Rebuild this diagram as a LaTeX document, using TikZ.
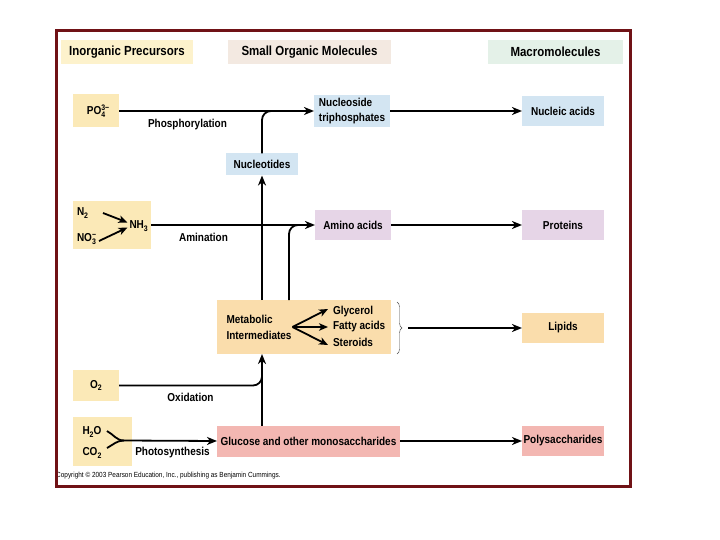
\documentclass[tikz,border=0pt]{standalone}
\usepackage{fontspec}
\setmainfont{Liberation Sans}[FakeStretch=0.87]
\usetikzlibrary{arrows.meta,decorations.pathreplacing}
\definecolor{framecol}{RGB}{112,18,22}
\definecolor{hInorg}{RGB}{253,242,204}
\definecolor{hSmall}{RGB}{243,233,225}
\definecolor{hMacro}{RGB}{228,241,232}
\definecolor{yel}{RGB}{251,233,183}
\definecolor{blu}{RGB}{211,229,242}
\definecolor{pur}{RGB}{230,213,231}
\definecolor{pch}{RGB}{250,221,172}
\definecolor{sal}{RGB}{243,183,178}
\newlength\ionw
\newcommand{\ion}[2]{\setbox0=\hbox{\fontsize{8}{8}\selectfont #1}\setbox2=\hbox{\fontsize{8}{8}\selectfont #2}\ionw=\wd0 \ifdim\wd2>\ionw \ionw=\wd2\fi\hbox to\ionw{\rlap{\raise4.6pt\box0}\lower2.4pt\box2\hss}}
\newcommand{\sbs}[1]{\lower2.4pt\hbox{\fontsize{8}{8}\selectfont #1}}
\tikzset{
  box/.style={inner sep=0pt, outer sep=0pt, draw=none, font=\fontsize{11.5}{13}\selectfont\bfseries},
  hdr/.style={box, minimum height=24pt, font=\fontsize{13.2}{15}\selectfont\bfseries},
  lbl/.style={inner sep=0pt, outer sep=0pt, font=\fontsize{11.5}{13}\selectfont\bfseries},
  conn/.style={line width=1.8pt},
  arr/.style={conn, -{Stealth[length=10pt,width=8pt,inset=3pt]}},
  arrsm/.style={conn, -{Stealth[length=9pt,width=7.5pt,inset=2.5pt]}},
  bracestyle/.style={decorate, decoration={brace, amplitude=5pt}, line width=0.45pt, draw=black!70},
}
\begin{document}
\begin{tikzpicture}[x=1pt,y=-1pt]
\useasboundingbox (0,0) rectangle (720,540);
\fill[white] (0,0) rectangle (720,540);
% headers
\node[hdr, fill=hInorg, minimum width=132pt] (hinorg) at (127,52) {Inorganic Precursors};
\node[hdr, fill=hSmall, minimum width=163pt] (hsmall) at (309.5,52) {Small Organic Molecules};
\node[hdr, fill=hMacro, minimum width=135pt] (hmacro) at (555.5,52) {Macromolecules};
% row 1
\node[box, fill=yel, minimum width=46pt, minimum height=33pt] (po4) at (96,111) {PO\ion{3−}{4}};
\node[box, fill=blu, minimum width=76pt, minimum height=32pt, align=left, font=\fontsize{11.5}{15}\selectfont\bfseries] (nt) at (352,111) {Nucleoside\\triphosphates};
\node[box, fill=blu, minimum width=82pt, minimum height=30pt] (na) at (563,111) {Nucleic acids};
\node[box, fill=blu, minimum width=72pt, minimum height=22pt] (nucl) at (262,164.5) {Nucleotides};
\node[lbl] (phos) at (187.5,124.5) {Phosphorylation};
% row 2
\node[box, fill=yel, minimum width=78pt, minimum height=47pt] (nh) at (112,225) {};
\node[lbl, anchor=west] (n2) at (77,213) {N\sbs{2}};
\node[lbl, anchor=west] (no3) at (77,239) {NO\ion{−}{3}};
\node[lbl, anchor=west] (nh3) at (129.5,226) {NH\sbs{3}};
\node[box, fill=pur, minimum width=76pt, minimum height=30pt] (aa) at (353,225) {Amino acids};
\node[box, fill=pur, minimum width=82pt, minimum height=30pt] (prot) at (563,225) {Proteins};
\node[lbl] (amin) at (203.5,237.5) {Amination};
% row 3
\node[box, fill=pch, minimum width=174pt, minimum height=54pt] (meta) at (304,327) {};
\node[lbl, anchor=west, align=left, font=\fontsize{11.5}{16}\selectfont\bfseries] (metatxt) at (226.5,327) {Metabolic\\Intermediates};
\node[lbl, anchor=west] (gly) at (333,312) {Glycerol};
\node[lbl, anchor=west] (fa) at (333,327) {Fatty acids};
\node[lbl, anchor=west] (ster) at (333,342) {Steroids};
\node[box, fill=pch, minimum width=82pt, minimum height=30pt] (lip) at (563,328) {Lipids};
% row 4
\node[box, fill=yel, minimum width=46pt, minimum height=31pt] (o2) at (96,385.5) {O\sbs{2}};
\node[lbl] (oxid) at (190.5,397.5) {Oxidation};
\node[box, fill=yel, minimum width=59pt, minimum height=49pt] (h2o) at (102.5,441) {};
\node[lbl, anchor=west] (h2otxt) at (82.5,432) {H\sbs{2}O};
\node[lbl, anchor=west] (co2txt) at (82.5,453) {CO\sbs{2}};
\node[box, fill=sal, minimum width=183pt, minimum height=31pt] (gluc) at (308.5,441) {Glucose and other monosaccharides};
\node[box, fill=sal, minimum width=82pt, minimum height=30pt] (poly) at (563,441) {Polysaccharides};
\node[lbl] (photo) at (172.5,452.5) {Photosynthesis};
\node[anchor=west, inner sep=0pt, font=\fontsize{7.4}{8}\selectfont] (copy) at (56,476) {Copyright © 2003 Pearson Education, Inc., publishing as Benjamin Cummings.};
% coordinates
\coordinate (j1) at (276,111);
\coordinate (j2) at (303,225);
\coordinate (j3) at (262,371);
\coordinate (v2) at (289,300);
\coordinate (n2s) at (103,213);
\coordinate (n2t) at (127.5,222.5);
\coordinate (no3s) at (99,241);
\coordinate (no3t) at (127.5,227.5);
\coordinate (mfork) at (292.5,327);
\coordinate (glyt) at (328,309);
\coordinate (fat) at (328,327);
\coordinate (stert) at (328,345);
\coordinate (bt) at (397,302);
\coordinate (bb) at (397,354);
\coordinate (btip) at (408,328);
\coordinate (hs) at (107,431);
\coordinate (cs) at (107,448);
\coordinate (pj) at (124,440.5);
% connectors
\draw[arr] (po4.east) -- (nt.west);
\draw[arr] (nt.east) -- (na.west);
\draw[conn, rounded corners=9pt] (nucl.north) |- (j1);
\draw[arr] (meta.north -| nucl.south) -- (nucl.south);
\draw[arrsm] (n2s) -- (n2t);
\draw[arrsm] (no3s) -- (no3t);
\draw[arr] (nh.east) -- (aa.west);
\draw[arr] (aa.east) -- (prot.west);
\draw[conn, rounded corners=9pt] (v2) |- (j2);
\draw[arrsm] (mfork) -- (glyt);
\draw[arrsm] (mfork) -- (fat);
\draw[arrsm] (mfork) -- (stert);
\draw[bracestyle] (bt) -- (bb);
\draw[arr] (btip) -- (btip -| lip.west);
\draw[conn, rounded corners=9pt] (o2.east) -| (j3);
\draw[arr] (gluc.north -| nucl.south) -- (meta.south -| nucl.south);
\draw[conn] (hs) to[out=-28,in=180] (pj);
\draw[conn] (cs) to[out=28,in=180] (pj);
\draw[arr] (pj) -- (gluc.west);
\draw[arr] (gluc.east) -- (poly.west);
% frame
\draw[line width=3pt, framecol] (56.5,30.5) rectangle (630.5,486.5);
\end{tikzpicture}
\end{document}
